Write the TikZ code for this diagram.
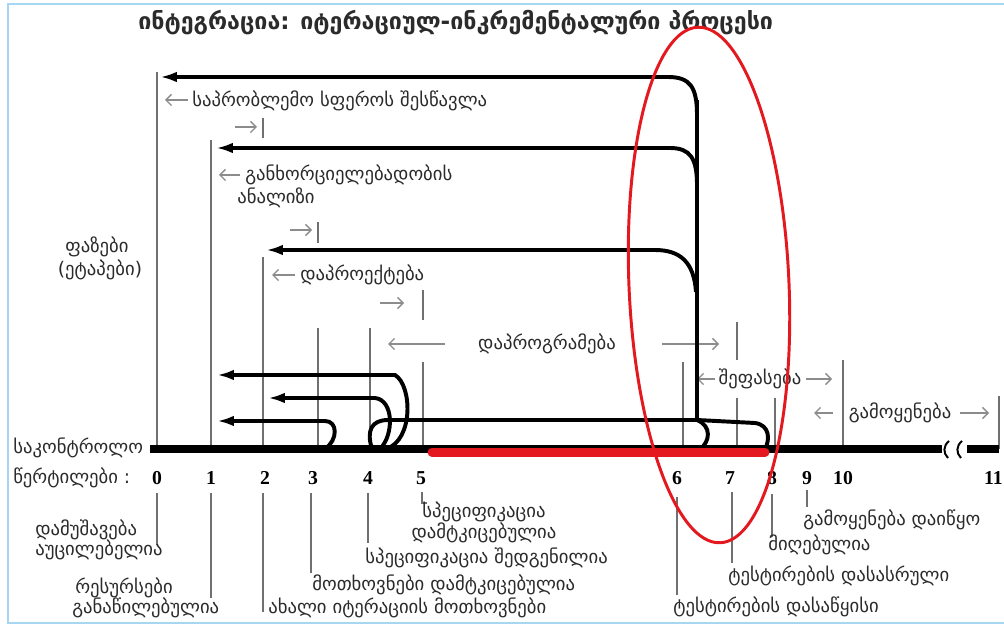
\documentclass[tikz,border=0pt]{standalone}
\usepackage{fontspec}
\setmainfont{DejaVu Sans}
\newfontfamily\numfont{Liberation Serif}
\definecolor{LineGray}{HTML}{707070}
\definecolor{ArrowGray}{HTML}{8C8C8C}
\definecolor{TextDark}{HTML}{2B2B2B}
\definecolor{MarkRed}{HTML}{E3191F}
\definecolor{FrameBlue}{HTML}{A6D6F2}
\usetikzlibrary{arrows.meta}
\tikzset{
  phaseLine/.style={draw=LineGray, line width=1.4pt},
  leaderLine/.style={draw=LineGray, line width=1.2pt},
  spanArrow/.style={-{Straight Barb[length=4pt,width=8pt]}, draw=ArrowGray, line width=0.9pt},
  bigArrow/.style={-{Latex[length=12pt,width=7.5pt]}, draw=black, line width=2.8pt},
  loopLine/.style={draw=black, line width=2.8pt},
  baseLine/.style={draw=black, line width=5pt},
  breakMark/.style={draw=black, line width=1.4pt},
  redBar/.style={draw=MarkRed, line width=6.4pt, line cap=round},
  redRing/.style={draw=MarkRed, line width=2.1pt},
  titleText/.style={anchor=west, inner sep=0pt, text=TextDark, font=\fontsize{16.5}{18}\selectfont\bfseries},
  phaseText/.style={anchor=west, inner sep=0pt, text=TextDark, font=\fontsize{13.3}{15}\selectfont},
  pointText/.style={anchor=west, inner sep=0pt, text=TextDark, font=\fontsize{13.3}{15}\selectfont},
  numText/.style={anchor=center, inner sep=0pt, text=black, font=\numfont\fontsize{14}{16}\selectfont\bfseries}
}
\begin{document}
\begin{tikzpicture}[x=0.025cm,y=-0.025cm]
  \useasboundingbox (0,0) rectangle (1004,628);
  \fill[white] (0,0) rectangle (1004,628);
  \draw[FrameBlue, line width=2pt] (1010,4) -- (8,4) -- (8,623) -- (1010,623);

  % title
  \node[titleText] (title) at (138,23) {ინტეგრაცია: იტერაციულ-ინკრემენტალური პროცესი};

  % checkpoints on the control line
  \coordinate (c0) at (157,449);
  \coordinate (c1) at (211,449);
  \coordinate (c2) at (263,449);
  \coordinate (c3) at (318,449);
  \coordinate (c4) at (370,449);
  \coordinate (c5) at (423,449);
  \coordinate (c6) at (683,449);
  \coordinate (c7) at (737,449);
  \coordinate (c8) at (775,449);
  \coordinate (c10) at (843,449);
  \coordinate (c11) at (999,449);

  % phase start lines and end ticks
  \draw[phaseLine] (c0) -- (157,72);
  \draw[phaseLine] (c1) -- (211,140);
  \draw[phaseLine] (c2) -- (263,257);
  \draw[phaseLine] (c3) -- (318,328);
  \draw[phaseLine] (c4) -- (370,328);
  \draw[phaseLine] (c5) -- (423,362);
  \draw[phaseLine] (c6) -- (683,362);
  \draw[phaseLine] (c7) -- (737,398);
  \draw[phaseLine] (c8) -- (775,398);
  \draw[phaseLine] (c10) -- (843,360);
  \draw[phaseLine] (c11) -- (999,396);
  \draw[phaseLine] (263,118) -- (263,138);
  \draw[phaseLine] (318,222) -- (318,243);
  \draw[phaseLine] (423,290) -- (423,320);
  \draw[phaseLine] (737,322) -- (737,360);

  % phase spans
  \draw[spanArrow] (188,100) -- (165,100);
  \draw[spanArrow] (235,127) -- (257,127);
  \draw[spanArrow] (240,175) -- (219,175);
  \draw[spanArrow] (290,230) -- (312,230);
  \draw[spanArrow] (295,275) -- (272,275);
  \draw[spanArrow] (380,303) -- (404,303);
  \draw[spanArrow] (445,344) -- (388,344);
  \draw[spanArrow] (662,344) -- (719,344);
  \draw[spanArrow] (715,379) -- (697,379);
  \draw[spanArrow] (806,379) -- (832,379);
  \draw[spanArrow] (833,413) -- (814,413);
  \draw[spanArrow] (960,413) -- (989,413);

  \node[phaseText] (pSphere) at (192,101) {საპრობლემო სფეროს შესწავლა};
  \node[phaseText] (pFeas) at (245,175) {განხორციელებადობის};
  \node[phaseText] (pFeasB) at (237,198) {ანალიზი};
  \node[phaseText] (pDesign) at (300,275) {დაპროექტება};
  \node[phaseText, anchor=center] (pCode) at (547,344) {დაპროგრამება};
  \node[phaseText, anchor=center] (pEval) at (760,379) {შეფასება};
  \node[phaseText, anchor=center] (pUse) at (900,413) {გამოყენება};
  \node[phaseText, anchor=center] (phases) at (97,247) {ფაზები};
  \node[phaseText, anchor=center] (phasesB) at (100,270) {(ეტაპები)};

  % iteration feedback
  \draw[loopLine] (697,100) -- (697,420);
  \draw[bigArrow] (697,115) .. controls (697,87) and (690,77) .. (668,77) -- (160,77);
  \draw[bigArrow] (697,185) .. controls (697,158) and (690,148) .. (670,148) -- (216,148);
  \draw[bigArrow] (696,292) .. controls (694,262) and (680,250) .. (655,250) -- (266,250);
  \draw[loopLine] (372,449) .. controls (366,430) and (372,420) .. (388,420) -- (697,420);
  \draw[loopLine] (697,420) -- (755,423) .. controls (770,425) and (770,440) .. (765,449);
  \draw[loopLine] (697,420) .. controls (712,426) and (710,442) .. (700,449);
  \draw[bigArrow] (386,449) .. controls (414,440) and (412,385) .. (395,375) -- (217,375);
  \draw[bigArrow] (380,449) .. controls (394,435) and (394,400) .. (375,398) -- (268,398);
  \draw[bigArrow] (325,449) .. controls (338,440) and (338,421) .. (325,421) -- (217,421);

  % control line
  \draw[baseLine] (150,449) -- (942,449);
  \draw[baseLine] (967,449) -- (999,449);
  \draw[breakMark] (949,441) .. controls (943,446) and (943,453) .. (948,458);
  \draw[breakMark] (962,441) .. controls (956,446) and (956,453) .. (961,458);
  \draw[redBar] (432,452) -- (765,452);

  \node[phaseText] (ctrl) at (13,448) {საკონტროლო};
  \node[phaseText] (pts) at (13,478) {წერტილები :};

  % checkpoint numbers
  \node[numText] (n0) at (157,478) {0};
  \node[numText] (n1) at (211,478) {1};
  \node[numText] (n2) at (265,478) {2};
  \node[numText] (n3) at (313,478) {3};
  \node[numText] (n4) at (368,478) {4};
  \node[numText] (n5) at (421,478) {5};
  \node[numText] (n6) at (677,478) {6};
  \node[numText] (n7) at (730,478) {7};
  \node[numText] (n8) at (772,478) {8};
  \node[numText] (n9) at (807,478) {9};
  \node[numText] (n10) at (843,478) {10};
  \node[numText, anchor=east] (n11) at (1003,478) {11};

  % checkpoint descriptions
  \draw[leaderLine] (157,493) -- (157,545);
  \draw[leaderLine] (211,493) -- (211,598);
  \draw[leaderLine] (263,493) -- (263,612);
  \draw[leaderLine] (311,493) -- (311,573);
  \draw[leaderLine] (368,493) -- (368,543);
  \draw[leaderLine] (422,492) -- (422,503) -- (427,503);
  \draw[leaderLine] (677,497) -- (677,595);
  \draw[leaderLine] (732,492) -- (732,563);
  \draw[leaderLine] (772,494) -- (772,537);
  \draw[leaderLine] (807,490) -- (807,507);

  \node[pointText] (d0) at (35,530) {დამუშავება};
  \node[pointText] (d0b) at (35,550) {აუცილებელია};
  \node[pointText] (d1) at (75,588) {რესურსები};
  \node[pointText] (d1b) at (72,608) {განაწილებულია};
  \node[pointText] (d2) at (268,608) {ახალი იტერაციის მოთხოვნები};
  \node[pointText] (d3) at (312,585) {მოთხოვნები დამტკიცებულია};
  \node[pointText] (d4) at (365,558) {სპეციფიკაცია შედგენილია};
  \node[pointText, anchor=center] (d5) at (484,512) {სპეციფიკაცია};
  \node[pointText, anchor=center] (d5b) at (484,533) {დამტკიცებულია};
  \node[pointText] (d6) at (673,607) {ტესტირების დასაწყისი};
  \node[pointText] (d7) at (728,576) {ტესტირების დასასრული};
  \node[pointText] (d8) at (768,545) {მიღებულია};
  \node[pointText] (d9) at (803,520) {გამოყენება დაიწყო};

  % highlighted testing stage
  \draw[redRing, rotate around={2.5:(709,285)}] (709,285) ellipse [x radius=80, y radius=258];
\end{tikzpicture}
\end{document}
